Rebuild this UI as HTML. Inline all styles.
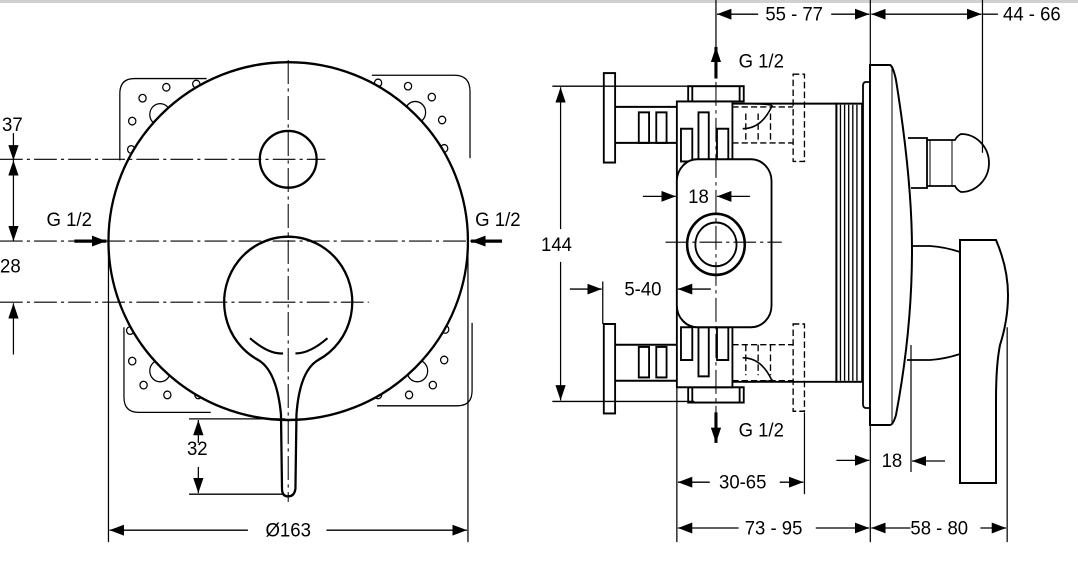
<!DOCTYPE html>
<html><head><style>
html,body{margin:0;padding:0;background:#fff;}
svg{display:block;}
text{font-family:"Liberation Sans",sans-serif;font-size:18px;fill:#000;}
</style></head><body>
<svg width="1078" height="572" viewBox="0 0 1078 572" xmlns="http://www.w3.org/2000/svg">
<defs>
<marker id="a" viewBox="0 0 14 10" refX="14" refY="5" markerWidth="14" markerHeight="10" markerUnits="userSpaceOnUse" orient="auto-start-reverse"><path d="M0,0L14,5L0,10z" fill="#000"/></marker>
</defs>
<rect x="0" y="0" width="1078" height="3" fill="#d0d0d0"/>

<!-- LEFT VIEW -->
<g transform="scale(1.033,1.0909)">
<g fill="none" stroke="#000">
<g stroke-width="1.2">
<path d="M200,72 L130,72 Q116,72 116,86 L116,147"/>
<path d="M360,69 L440,69 Q455,69 455,84 L455,145"/>
<path d="M120,300 L120,364 Q120,378 134,378 L204,378"/>
<path d="M457,296 L457,358 Q457,372 443,372 L365,372"/>
<circle cx="161" cy="80" r="3.5"/><circle cx="138" cy="90" r="3.5"/><circle cx="128" cy="111" r="3.5"/><circle cx="127" cy="137" r="3.5"/><circle cx="190" cy="77" r="3.5"/>
<circle cx="395" cy="79" r="3.5"/><circle cx="418" cy="89" r="3.5"/><circle cx="428" cy="110" r="3.5"/><circle cx="430" cy="136" r="3.5"/><circle cx="366" cy="76" r="3.5"/>
<circle cx="128" cy="331" r="3.5"/><circle cx="139" cy="353" r="3.5"/><circle cx="162" cy="362" r="3.5"/><circle cx="192" cy="362" r="3.5"/><circle cx="126" cy="303" r="3.5"/>
<circle cx="430" cy="330" r="3.5"/><circle cx="419" cy="353" r="3.5"/><circle cx="396" cy="362" r="3.5"/><circle cx="366" cy="362" r="3.5"/><circle cx="431" cy="302" r="3.5"/>
<circle cx="155" cy="105" r="10"/><circle cx="402" cy="103" r="10"/><circle cx="155" cy="340" r="10"/><circle cx="404" cy="340" r="10"/>
</g>
<ellipse cx="279" cy="221" rx="174" ry="164" fill="#fff" stroke-width="2.2"/>
<ellipse cx="279" cy="146" rx="27.5" ry="26" stroke-width="2.2"/>
<path d="M250,330 A62,60 0 1 1 308,330 Q290,340 287,380 L286,448 Q285,455 279,455 Q273,455 273,448 L272,380 Q268,340 250,330 Z" stroke-width="2.2"/>
<path d="M242,310 Q260,325 274,324 M286,324 Q300,324 317,310" stroke-width="2"/>
<g stroke-width="1" stroke-dasharray="22,4,3,4">
<line x1="279" y1="55" x2="279" y2="460"/>
<line x1="0" y1="146" x2="315" y2="146"/>
<line x1="0" y1="221" x2="486" y2="221"/>
<line x1="0" y1="277" x2="357" y2="277"/>
</g>
<g stroke-width="1.2">
<line x1="13" y1="122" x2="13" y2="147" marker-end="url(#a)"/>
<line x1="13" y1="147" x2="13" y2="221" marker-start="url(#a)" marker-end="url(#a)"/>
<line x1="13" y1="325" x2="13" y2="278" marker-end="url(#a)"/>
<line x1="72" y1="221" x2="103" y2="221" stroke-width="3" marker-end="url(#a)"/>
<line x1="486" y1="221" x2="456" y2="221" stroke-width="3" marker-end="url(#a)"/>
<line x1="183" y1="384" x2="276" y2="384"/><line x1="183" y1="453" x2="274" y2="453"/>
<line x1="192" y1="406" x2="192" y2="385" marker-end="url(#a)"/>
<line x1="192" y1="428" x2="192" y2="452" marker-end="url(#a)"/>
<line x1="105" y1="221" x2="105" y2="497"/><line x1="453" y1="221" x2="453" y2="497"/>
<line x1="240" y1="486" x2="106" y2="486" marker-end="url(#a)"/>
<line x1="316" y1="486" x2="452" y2="486" marker-end="url(#a)"/>
</g>
</g>
<text x="2" y="120">37</text>
<text x="0" y="250">28</text>
<text x="45" y="207">G 1/2</text>
<text x="460" y="207">G 1/2</text>
<text x="181" y="417">32</text>
<text x="279" y="492" text-anchor="middle">Ø163</text>
</g>

<!-- RIGHT VIEW (scaled part) -->
<g transform="translate(540,0) scale(1.029,1.0909) translate(-540,0)">
<g fill="none" stroke="#000">
<g stroke-width="1.8">
<rect x="602" y="67" width="11" height="82"/><rect x="602" y="297" width="11" height="82"/>
<path d="M613,98 L673,98 M613,131 L673,131 M613,316 L673,316 M613,349 L673,349"/>
<rect x="636" y="103" width="10" height="28"/><rect x="653" y="103" width="10" height="28"/>
<rect x="636" y="318" width="10" height="28"/><rect x="653" y="318" width="10" height="28"/>
<rect x="684" y="79" width="54" height="14"/><rect x="684" y="355" width="54" height="14"/>
<line x1="688" y1="79" x2="688" y2="93"/><line x1="734" y1="79" x2="734" y2="93"/>
<line x1="688" y1="355" x2="688" y2="369"/><line x1="734" y1="355" x2="734" y2="369"/>
<rect x="673" y="93" width="54" height="262" fill="#fff"/>
<rect x="677" y="118" width="11" height="30"/><rect x="694" y="103" width="10" height="45"/><rect x="712" y="118" width="11" height="30"/>
<rect x="677" y="300" width="11" height="30"/><rect x="694" y="300" width="10" height="45"/><rect x="712" y="300" width="11" height="30"/>
<path d="M727,95 L828,95 L828,350 L727,350"/>
<rect x="673" y="146" width="92" height="154" rx="20" fill="#fff"/>
<circle cx="711" cy="224" r="28" stroke-width="2.5"/><circle cx="711" cy="224" r="20"/>
<rect x="828" y="95" width="25" height="255"/>
<path d="M832,96V349M836,96V349M840,96V349M844,96V349M848,96V349" stroke-width="1.3"/>
<g stroke-dasharray="6,3" stroke-width="1.3">
<rect x="786" y="68" width="11" height="80"/><rect x="786" y="297" width="11" height="80"/>
<path d="M727,98 L786,98 M727,131 L786,131 M740,104 L740,131 M752,104 L752,131 M764,104 L764,131"/>
<path d="M727,316 L786,316 M727,349 L786,349 M740,316 L740,344 M752,316 L752,344 M764,316 L764,344"/>
</g>
<path d="M737,95 Q770,95 765,98 Q755,118 737,118" stroke-width="1.5"/>
<path d="M737,328 Q755,328 765,348 Q770,350 737,350" stroke-width="1.5"/>
</g>
<g stroke-width="1" stroke-dasharray="22,4,3,4">
<line x1="711" y1="75" x2="711" y2="390"/>
<line x1="662" y1="222" x2="775" y2="222"/>
</g>
<g stroke-width="1.2">
<line x1="711" y1="0" x2="711" y2="45"/><line x1="861" y1="0" x2="861" y2="497"/><line x1="970" y1="0" x2="970" y2="140"/>
<line x1="752" y1="13" x2="712" y2="13" marker-end="url(#a)"/>
<line x1="823" y1="13" x2="860" y2="13" marker-end="url(#a)"/>
<line x1="885" y1="13" x2="862" y2="13" marker-end="url(#a)"/>
<line x1="885" y1="13" x2="969" y2="13" marker-end="url(#a)"/>
<line x1="970" y1="13" x2="985" y2="13"/>
<line x1="711" y1="72" x2="711" y2="43" stroke-width="3" marker-end="url(#a)"/>
<line x1="711" y1="378" x2="711" y2="406" stroke-width="3" marker-end="url(#a)"/>
<line x1="552" y1="79" x2="690" y2="79"/><line x1="552" y1="368" x2="690" y2="368"/>
<line x1="560" y1="210" x2="560" y2="80" marker-end="url(#a)"/>
<line x1="560" y1="240" x2="560" y2="367" marker-end="url(#a)"/>
<line x1="640" y1="180" x2="672" y2="180" marker-end="url(#a)"/>
<line x1="744" y1="180" x2="712" y2="180" marker-end="url(#a)"/>
<line x1="601" y1="258" x2="601" y2="297"/>
<line x1="569" y1="265" x2="600" y2="265" marker-end="url(#a)"/>
<line x1="706" y1="265" x2="674" y2="265" marker-end="url(#a)"/>
<line x1="673" y1="355" x2="673" y2="497"/><line x1="797" y1="378" x2="797" y2="453"/>
<line x1="705" y1="442" x2="674" y2="442" marker-end="url(#a)"/>
<line x1="773" y1="442" x2="796" y2="442" marker-end="url(#a)"/>
<line x1="733" y1="484" x2="674" y2="484" marker-end="url(#a)"/>
<line x1="808" y1="484" x2="860" y2="484" marker-end="url(#a)"/>
<line x1="900" y1="484" x2="862" y2="484" marker-end="url(#a)"/>
<line x1="968" y1="484" x2="993" y2="484" marker-end="url(#a)"/>
<line x1="994" y1="300" x2="994" y2="497"/>
<line x1="828" y1="422" x2="860" y2="422" marker-end="url(#a)"/>
</g>
</g>
<text x="787" y="19" text-anchor="middle">55 - 77</text>
<text x="990" y="19">44 - 66</text>
<text x="733" y="62">G 1/2</text>
<text x="733" y="400">G 1/2</text>
<text x="541" y="230">144</text>
<text x="694" y="186" text-anchor="middle">18</text>
<text x="640" y="271" text-anchor="middle">5-40</text>
<text x="882" y="428" text-anchor="middle">18</text>
<text x="737" y="448" text-anchor="middle">30-65</text>
<text x="767" y="490" text-anchor="middle">73 - 95</text>
<text x="928" y="490" text-anchor="middle">58 - 80</text>
</g>

<!-- RIGHT VIEW (unscaled: cover, knob, lever) -->
<g fill="none" stroke="#000" stroke-width="1.8">
<path d="M870,82 L866,82 Q863,82 863,86 L863,404 Q863,408 866,408 L870,408"/>
<path d="M870,65 L890,65 Q893,66 896,80 Q912,180 912,250 Q912,330 896,415 Q893,425 890,425 L870,425 Z" stroke-width="2"/>
<line x1="892" y1="66" x2="892" y2="424" stroke-width="1"/>
<path d="M908,138 L927,138 L927,188 L911,188"/>
<path d="M927,140 L955,140 Q957,136 961,134 A28,29 0 0 1 961,192 Q957,190 955,186 L927,186"/>
<line x1="930" y1="140" x2="930" y2="186" stroke-width="1"/><line x1="952" y1="140" x2="952" y2="186" stroke-width="1"/>
<path d="M912,246 L930,246 Q945,247 960,252 M907,360 L930,360 Q945,359 960,354"/>
<path d="M960,240 L996,240 Q1008,268 1008,295 Q1008,320 1000,345 Q996,365 996,400 L996,483 L960,483 Z" stroke-width="2"/>
<line x1="911" y1="345" x2="911" y2="472" stroke-width="1.2"/>
<line x1="945" y1="461" x2="912" y2="461" stroke-width="1.2" marker-end="url(#a)"/>
</g>
</svg>
</body></html>
